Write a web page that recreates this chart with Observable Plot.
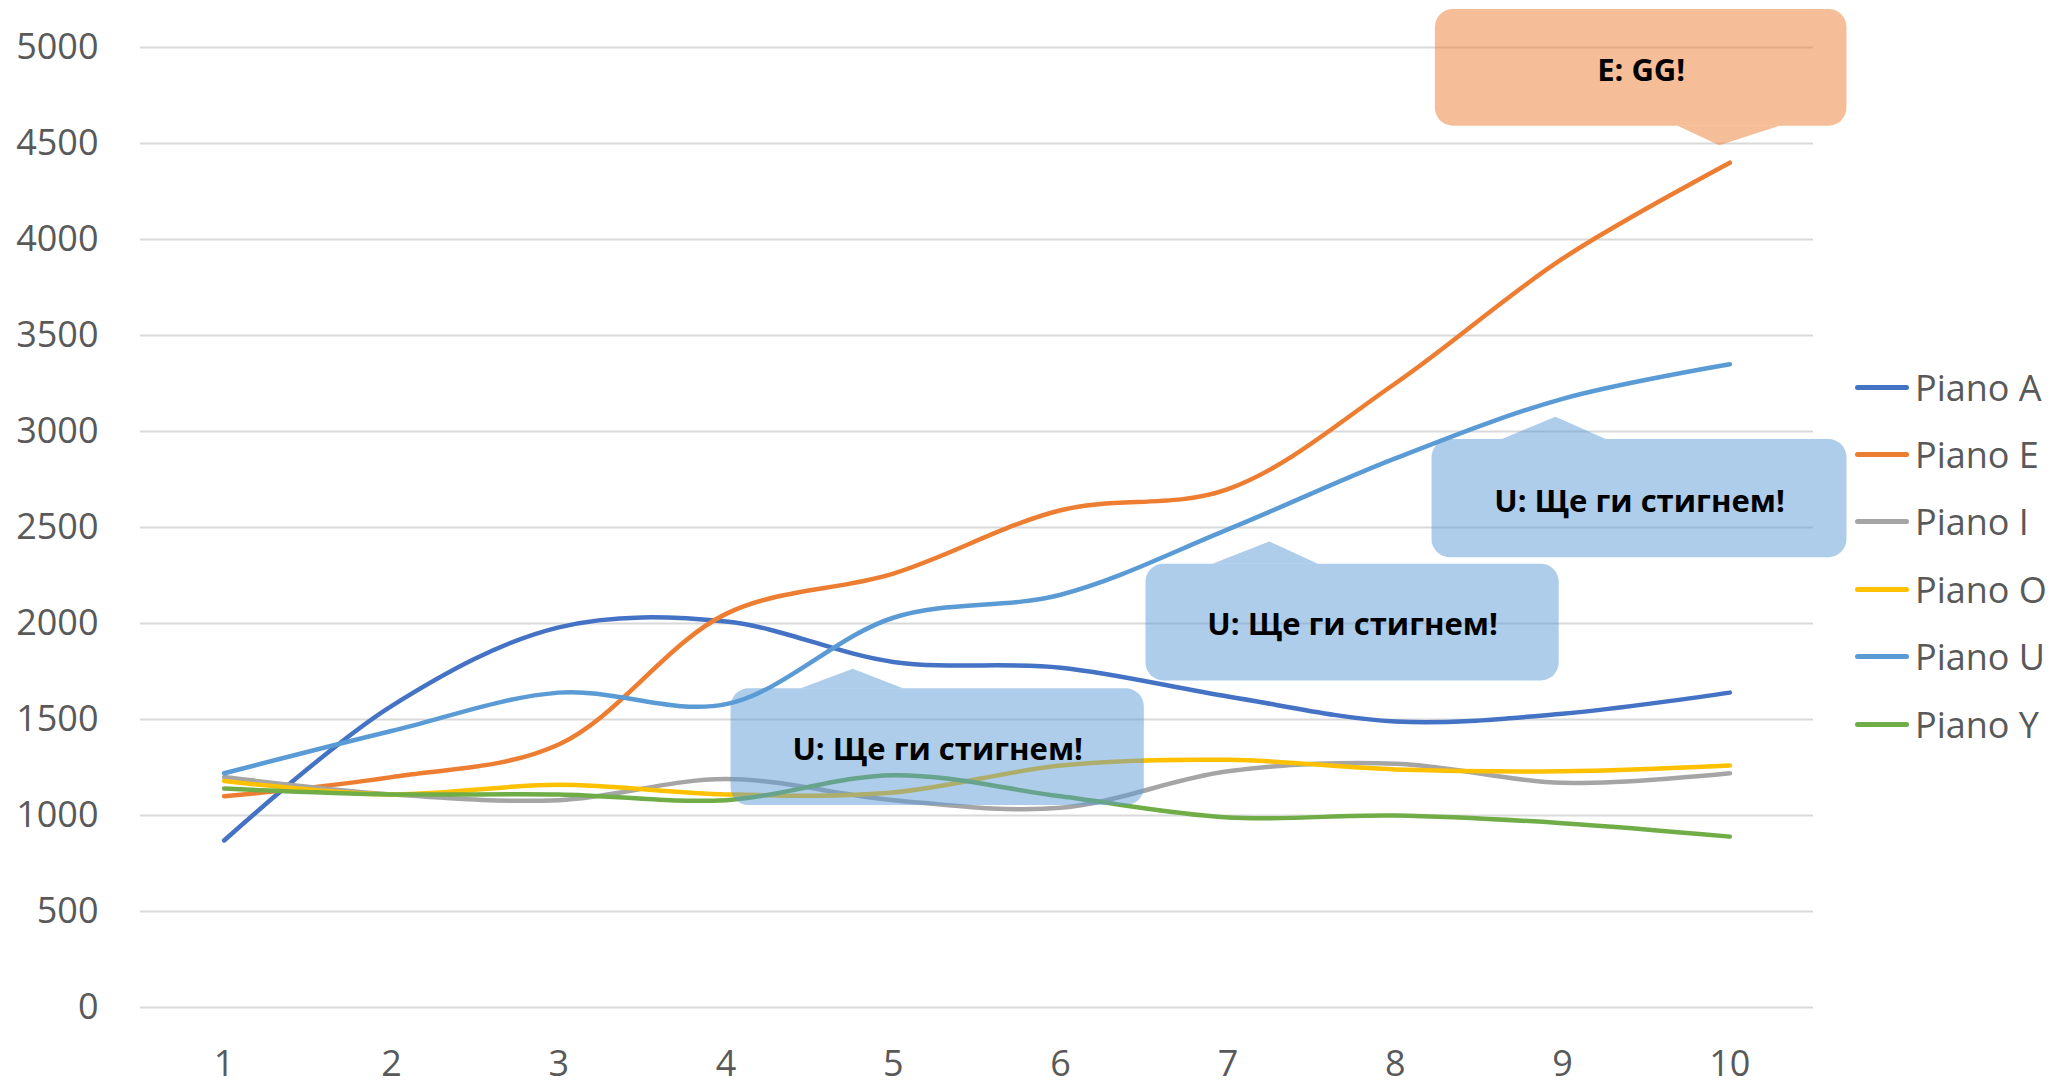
<!DOCTYPE html>
<html>
<head>
<meta charset="utf-8">
<script src="https://cdn.jsdelivr.net/npm/d3@7"></script>
<script src="https://cdn.jsdelivr.net/npm/@observablehq/plot@0.6"></script>
<style>
  html, body { margin: 0; padding: 0; background: #fff; }
  #wrap { position: relative; width: 2056px; height: 1086px; overflow: hidden; }
  #legend { position: absolute; left: 1855px; top: 0; font-family: 'Open Sans', sans-serif; font-size: 36px; color: #595959; }
  .item { position: absolute; left: 0; display: flex; align-items: center; white-space: nowrap; height: 50px; }
  .swatch { width: 54px; height: 5px; border-radius: 3px; margin-right: 6px; }
</style>
</head>
<body>
<div id="wrap"><div id="chart"></div><div id="legend"></div></div>
<script>
// ---- data ----
const categories = [1, 2, 3, 4, 5, 6, 7, 8, 9, 10];
const seriesNames = ["Piano A", "Piano E", "Piano I", "Piano O", "Piano U", "Piano Y"];
const seriesColors = ["#4472C4", "#ED7D31", "#A5A5A5", "#FFC000", "#5B9BD5", "#70AD47"];
const pianoA = [870, 1570, 1980, 2010, 1800, 1770, 1620, 1490, 1530, 1640];
const pianoE = [1100, 1200, 1370, 2050, 2260, 2590, 2700, 3250, 3900, 4400];
const pianoI = [1200, 1110, 1080, 1190, 1080, 1040, 1230, 1270, 1170, 1220];
const pianoO = [1180, 1110, 1160, 1110, 1120, 1260, 1290, 1240, 1230, 1260];
const pianoU = [1220, 1440, 1640, 1580, 2030, 2150, 2490, 2860, 3170, 3350];
const pianoY = [1140, 1110, 1110, 1080, 1210, 1100, 990, 1000, 960, 890];
const yTicks = [0, 500, 1000, 1500, 2000, 2500, 3000, 3500, 4000, 4500, 5000];

// callout annotations (in data units)
const calloutText = ["U: Ще ги стигнем!", "U: Ще ги стигнем!", "U: Ще ги стигнем!", "E: GG!"];
const calloutSeries = ["Piano U", "Piano U", "Piano U", "Piano E"];
const calloutX1 = [4.03, 6.51, 8.22, 8.24];
const calloutX2 = [6.50, 8.98, 10.70, 10.70];
const calloutYLow = [1052, 1701, 2343, 4590];
const calloutYHigh = [1660, 2309, 2958, 5198];
const pointerBase1 = [4.45, 6.91, 8.64, 9.69];
const pointerBase2 = [5.06, 7.54, 9.26, 10.30];
const pointerTipX = [4.76, 7.25, 8.96, 9.94];
const pointerTipY = [1762, 2425, 3074, 4488];

// ---- build tables ----
const allValues = [pianoA, pianoE, pianoI, pianoO, pianoU, pianoY];
const rows = [];
seriesNames.forEach((name, s) => allValues[s].forEach((v, i) => rows.push({series: name, x: categories[i], y: v})));

const boxes = calloutText.map((t, i) => ({
  text: t, series: calloutSeries[i],
  x1: calloutX1[i], x2: calloutX2[i], y1: calloutYLow[i], y2: calloutYHigh[i],
  cx: (calloutX1[i] + calloutX2[i]) / 2, cy: (calloutYLow[i] + calloutYHigh[i]) / 2
}));
const pointers = [];
boxes.forEach((b, i) => {
  const edge = pointerTipY[i] > b.y2 ? b.y2 : b.y1;
  pointers.push({id: i, series: b.series, x: pointerBase1[i], ya: edge, yb: edge});
  pointers.push({id: i, series: b.series, x: pointerTipX[i], ya: pointerTipY[i], yb: edge});
  pointers.push({id: i, series: b.series, x: pointerBase2[i], ya: edge, yb: edge});
});

const colorOf = Object.fromEntries(seriesNames.map((n, i) => [n, seriesColors[i]]));

const chart = Plot.plot({
  width: 2056,
  height: 1086,
  marginLeft: 140,
  marginRight: 243,
  marginTop: 47,
  marginBottom: 79,
  x: {type: "linear", domain: [0.5, 10.5]},
  y: {domain: [0, 5000]},
  color: {domain: seriesNames, range: seriesColors},
  style: {fontFamily: "'Open Sans', sans-serif", background: "#fff", overflow: "visible"},
  marks: [
    Plot.gridY(yTicks, {stroke: "#D9D9D9", strokeOpacity: 1, strokeWidth: 2}),
    Plot.axisY(yTicks, {tickSize: 0, tickPadding: 42, fontSize: 36, fill: "#595959", label: null, tickFormat: d => String(d)}),
    Plot.axisX(categories, {tickSize: 0, tickPadding: 43, fontSize: 36, fill: "#595959", label: null, tickFormat: d => String(d)}),
    Plot.line(rows, {x: "x", y: "y", z: "series", stroke: "series", strokeWidth: 4.5, curve: "catmull-rom", strokeLinecap: "round", strokeLinejoin: "round"}),
    Plot.rect(boxes, {x1: "x1", x2: "x2", y1: "y1", y2: "y2", fill: d => colorOf[d.series], fillOpacity: 0.5, rx: 18}),
    Plot.area(pointers, {x1: "x", y1: "ya", y2: "yb", z: "id", fill: d => colorOf[d.series], fillOpacity: 0.5, curve: "linear"}),
    Plot.text(boxes, {x: "cx", y: "cy", text: "text", fontSize: 31, fontWeight: "bold", fill: "#000", dy: 3})
  ]
});
document.getElementById("chart").appendChild(chart);

// legend
const legend = document.getElementById("legend");
seriesNames.forEach((name, i) => {
  const item = document.createElement("div");
  item.className = "item";
  item.style.top = (387 - 25 + i * 67.4) + "px";
  const sw = document.createElement("span");
  sw.className = "swatch";
  sw.style.background = seriesColors[i];
  const tx = document.createElement("span");
  tx.textContent = name;
  item.appendChild(sw);
  item.appendChild(tx);
  legend.appendChild(item);
});
</script>
</body>
</html>
